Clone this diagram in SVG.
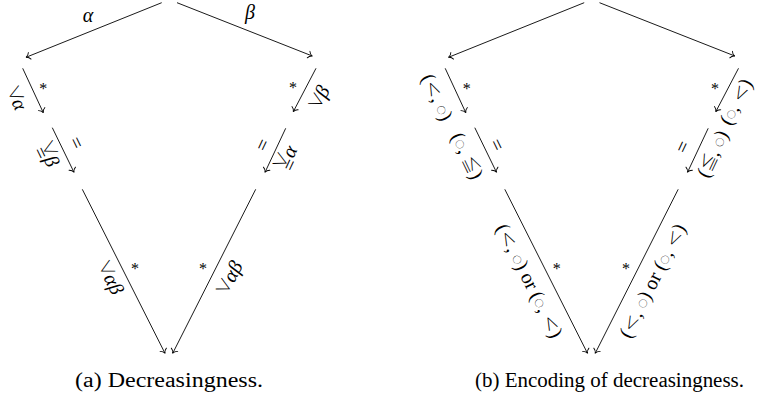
<svg xmlns="http://www.w3.org/2000/svg" width="758" height="412" viewBox="0 0 758 412">
<defs>
<marker id="to" markerWidth="10" markerHeight="10" refX="0" refY="0" viewBox="-5 -5 10 10" orient="auto" markerUnits="userSpaceOnUse">
<path d="M-4,-3.6 C-3,-1.3 -1.2,-0.3 0,0 C-1.2,0.3 -3,1.3 -4,3.6" fill="none" stroke="#000" stroke-width="0.9" stroke-linecap="round"/>
</marker>
<style>
.ln{stroke:#000;stroke-width:0.9;fill:none;marker-end:url(#to)}
.t{font-family:"Liberation Serif",serif;font-size:20px;fill:#000}
.it{font-style:italic}
.op{font-family:"DejaVu Sans ExtraLight","DejaVu Sans",sans-serif;font-size:20px;font-weight:200}
.vee{font-family:"Noto Sans CJK JP","DejaVu Sans",sans-serif;font-size:17px;font-weight:300}
.ci{font-family:"Noto Sans CJK JP","DejaVu Sans",sans-serif;font-size:9px;font-weight:300}
.st{font-family:"Liberation Serif",serif;font-size:16px;fill:#000;text-anchor:middle}
.cap{font-family:"Liberation Serif",serif;font-size:20px;fill:#000}
</style>
</defs>

<g id="connectors">
<line class="ln" x1="161.7" y1="2.7" x2="26" y2="57.3"/>
<line class="ln" x1="177" y1="2.7" x2="312.3" y2="56"/>
<line class="ln" x1="22.7" y1="68.3" x2="43.3" y2="112.7"/>
<line class="ln" x1="52.3" y1="127.7" x2="74" y2="172.3"/>
<line class="ln" x1="82.3" y1="189.3" x2="165" y2="353.3"/>
<line class="ln" x1="316" y1="68.3" x2="293.3" y2="111.7"/>
<line class="ln" x1="285.7" y1="128.3" x2="265" y2="172.3"/>
<line class="ln" x1="255.7" y1="189.3" x2="172.7" y2="353.3"/>
<g transform="translate(422.5,0)">
<line class="ln" x1="161.7" y1="2.7" x2="26" y2="57.3"/>
<line class="ln" x1="177" y1="2.7" x2="312.3" y2="56"/>
<line class="ln" x1="22.7" y1="68.3" x2="43.3" y2="112.7"/>
<line class="ln" x1="52.3" y1="127.7" x2="74" y2="172.3"/>
<line class="ln" x1="82.3" y1="189.3" x2="165" y2="353.3"/>
<line class="ln" x1="316" y1="68.3" x2="293.3" y2="111.7"/>
<line class="ln" x1="285.7" y1="128.3" x2="265" y2="172.3"/>
<line class="ln" x1="255.7" y1="189.3" x2="172.7" y2="353.3"/>
</g>
</g>

<g id="labels-a">
<text class="t it" x="88" y="22" text-anchor="middle" font-size="19">α</text>
<text class="t it" x="250" y="19" text-anchor="middle" font-size="19">β</text>
<text class="st" x="43.3" y="93.5">*</text>
<g transform="translate(16.5,99) rotate(65.1)"><text class="vee" x="-5" y="5" text-anchor="middle">∨</text><text class="t it" x="6" y="6" text-anchor="middle">α</text></g>
<g transform="translate(76,143) rotate(64.1)"><text class="t" x="0" y="6" text-anchor="middle">=</text></g>
<g transform="translate(48,155) rotate(64.1)"><text class="vee" x="-5" y="2" text-anchor="middle" font-size="15">∨</text><text class="t" x="-5" y="12" text-anchor="middle" font-size="16">=</text><text class="t it" x="7" y="6" text-anchor="middle">β</text></g>
<text class="st" x="293" y="92.5">*</text>
<g transform="translate(320,97) rotate(-62.4)"><text class="vee" x="-5" y="5" text-anchor="middle">∨</text><text class="t it" x="6" y="6" text-anchor="middle">β</text></g>
<g transform="translate(263,145) rotate(-64.8)"><text class="t" x="0" y="6" text-anchor="middle">=</text></g>
<g transform="translate(287,158) rotate(-64.8)"><text class="vee" x="-5" y="2" text-anchor="middle" font-size="15">∨</text><text class="t" x="-5" y="12" text-anchor="middle" font-size="16">=</text><text class="t it" x="7" y="6" text-anchor="middle">α</text></g>
<text class="st" x="135" y="274">*</text>
<g transform="translate(110,278) rotate(63.2)"><text class="vee" x="-10" y="5" text-anchor="middle">∨</text><text class="t it" x="7" y="6" text-anchor="middle">αβ</text></g>
<text class="st" x="203" y="274">*</text>
<g transform="translate(230,278) rotate(-63.2)"><text class="vee" x="-10" y="5" text-anchor="middle">∨</text><text class="t it" x="7" y="6" text-anchor="middle">αβ</text></g>
</g>

<g id="labels-b">
<text class="st" x="466.7" y="93.5">*</text>
<g transform="translate(436.7,97.5) rotate(65.1)"><text class="t" x="0" y="6" text-anchor="middle">(<tspan class="op">&lt;</tspan>, <tspan class="ci" dy="-1.5">○</tspan><tspan dy="1.5">)</tspan></text></g>
<g transform="translate(496.7,145) rotate(64.1)"><text class="t" x="0" y="6" text-anchor="middle">=</text></g>
<g transform="translate(466.7,156) rotate(64.1)"><text class="t" x="0" y="6" text-anchor="middle">(<tspan class="ci" dy="-1.5">○</tspan><tspan dy="1.5">, </tspan><tspan class="vee">≦</tspan>)</text></g>
<text class="st" x="715" y="93.5">*</text>
<g transform="translate(736.5,102) rotate(-62.4)"><text class="t" x="0" y="6" text-anchor="middle" font-size="18">(<tspan class="ci" dy="-1.5">○</tspan><tspan dy="1.5">, </tspan><tspan class="op" font-size="18">&lt;</tspan>)</text></g>
<g transform="translate(683,147) rotate(-64.8)"><text class="t" x="0" y="6" text-anchor="middle">=</text></g>
<g transform="translate(713,154) rotate(-64.8)"><text class="t" x="0" y="6" text-anchor="middle">(<tspan class="vee">≦</tspan>, <tspan class="ci" dy="-1.5">○</tspan><tspan dy="1.5">)</tspan></text></g>
<text class="st" x="556.7" y="274">*</text>
<g transform="translate(529,281) rotate(63.2)"><text class="t" x="0" y="6" text-anchor="middle">(<tspan class="op">&lt;</tspan>, <tspan class="ci" dy="-1.5">○</tspan><tspan dy="1.5">) or (</tspan><tspan class="ci" dy="-1.5">○</tspan><tspan dy="1.5">, </tspan><tspan class="op">&lt;</tspan>)</text></g>
<text class="st" x="626" y="274">*</text>
<g transform="translate(653,281) rotate(-63.2)"><text class="t" x="0" y="6" text-anchor="middle">(<tspan class="op">&lt;</tspan>, <tspan class="ci" dy="-1.5">○</tspan><tspan dy="1.5">) or (</tspan><tspan class="ci" dy="-1.5">○</tspan><tspan dy="1.5">, </tspan><tspan class="op">&lt;</tspan>)</text></g>
</g>

<g id="captions">
<text class="cap" x="75" y="387" textLength="188" lengthAdjust="spacingAndGlyphs">(a) Decreasingness.</text>
<text class="cap" x="475" y="387" textLength="269" lengthAdjust="spacingAndGlyphs">(b) Encoding of decreasingness.</text>
</g>
</svg>
